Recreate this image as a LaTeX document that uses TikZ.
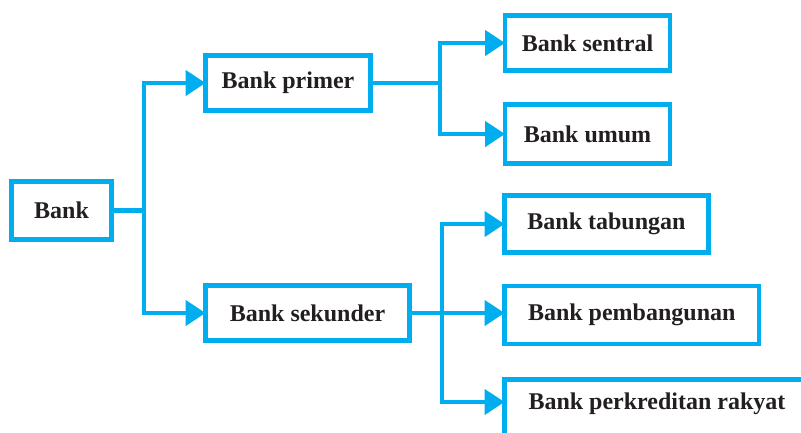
\documentclass[tikz,border=0pt]{standalone}
\usepackage{fontspec}
\setmainfont{Liberation Serif}
\usetikzlibrary{arrows.meta}
\definecolor{lineblue}{RGB}{0,174,239}
\definecolor{txtdark}{RGB}{35,31,32}
\begin{document}
\begin{tikzpicture}[x=1pt,y=-1pt,
  box/.style={draw=lineblue, line width=4.6pt, rectangle, inner sep=0pt, outer sep=0pt, fill=white,
    text=txtdark, font=\fontsize{24}{26}\selectfont\bfseries},
  txt/.style={inner sep=0pt, text=txtdark, font=\fontsize{24}{26}\selectfont\bfseries},
  conn/.style={draw=lineblue, line width=4.6pt},
  arr/.style={conn, -{Triangle[length=20pt,width=25pt]}}]
\useasboundingbox (0,0) rectangle (801,432);
\begin{scope}
\clip (0,0) rectangle (801,432);
% boxes
\node[box, minimum width=100pt, minimum height=58pt] (bank) at (61.5,210.5) {Bank};
\node[box, minimum width=165pt, minimum height=55.5pt] (primer) at (288,83) {Bank primer};
\node[box, minimum width=204pt, minimum height=55.5pt] (sekunder) at (307.5,313) {Bank sekunder};
\node[box, minimum width=165pt, minimum height=55pt] (sentral) at (587.5,43) {Bank sentral};
\node[box, minimum width=165pt, minimum height=58.5pt] (umum) at (587.5,134) {Bank umum};
\node[box, minimum width=204pt, minimum height=57pt] (tabungan) at (606.5,224) {Bank tabungan};
\node[box, minimum width=254.5pt, minimum height=58pt] (pembangunan) at (631.75,315) {Bank pembangunan};
\node[box, anchor=north west, minimum width=400pt, minimum height=120pt] (perk) at (504.5,379.5) {};
\node[txt] (perktext) at (657,404) {Bank perkreditan rakyat};
% junctions
\coordinate (j1) at (144,210.5);
\coordinate (j3) at (440,83);
\coordinate (j2) at (442,313);
\coordinate (perkin) at (504.5,402);
% connectors
\draw[conn] (bank.east) -- (j1);
\draw[arr] (j1) |- (primer.west);
\draw[arr] (j1) |- (sekunder.west);
\draw[conn] (primer.east) -- (j3);
\draw[arr] (j3) |- (sentral.west);
\draw[arr] (j3) |- (umum.west);
\draw[conn] (sekunder.east) -- (j2);
\draw[arr] (j2) |- (tabungan.west);
\draw[arr] (j2) -- (pembangunan.west |- j2);
\draw[arr] (j2) |- (perkin);
\end{scope}
\end{tikzpicture}
\end{document}
